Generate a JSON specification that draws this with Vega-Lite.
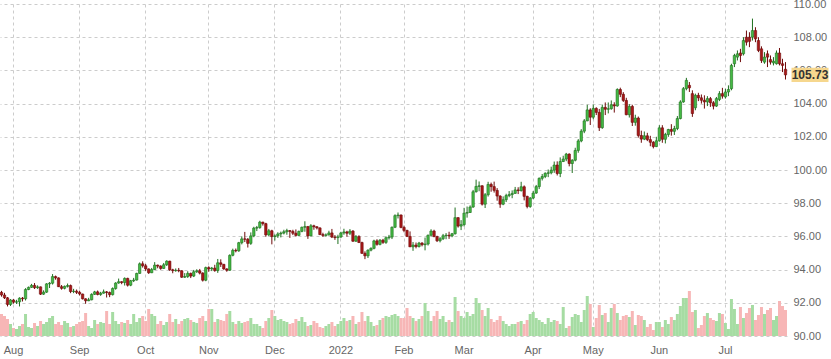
{
"$schema": "https://vega.github.io/schema/vega-lite/v6.json",
"width": 787, "height": 332,
"autosize": {"type": "none"},
"padding": {"left": 0, "top": 4, "right": 44, "bottom": 23},
"background": "white",
"config": {"view": {"stroke": null}, "font": "Liberation Sans"},
"data": {"values": [
{"d":"2021-07-27","o":92.63,"h":92.72,"l":92.37,"c":92.47,"v":22},
{"d":"2021-07-28","o":92.47,"h":92.60,"l":92.23,"c":92.30,"v":20},
{"d":"2021-07-29","o":92.30,"h":92.35,"l":91.78,"c":91.90,"v":17},
{"d":"2021-07-30","o":91.90,"h":92.22,"l":91.81,"c":92.17,"v":12},
{"d":"2021-08-02","o":92.17,"h":92.22,"l":91.95,"c":92.04,"v":8},
{"d":"2021-08-03","o":92.04,"h":92.18,"l":91.93,"c":92.06,"v":7},
{"d":"2021-08-04","o":92.06,"h":92.33,"l":91.78,"c":92.28,"v":10},
{"d":"2021-08-05","o":92.28,"h":92.35,"l":92.08,"c":92.24,"v":12},
{"d":"2021-08-06","o":92.24,"h":92.88,"l":92.14,"c":92.80,"v":22},
{"d":"2021-08-09","o":92.80,"h":92.98,"l":92.76,"c":92.93,"v":9},
{"d":"2021-08-10","o":92.93,"h":93.14,"l":92.90,"c":93.05,"v":8},
{"d":"2021-08-11","o":93.05,"h":93.19,"l":92.83,"c":92.91,"v":13},
{"d":"2021-08-12","o":92.91,"h":93.05,"l":92.84,"c":92.96,"v":10},
{"d":"2021-08-13","o":92.96,"h":92.98,"l":92.47,"c":92.52,"v":15},
{"d":"2021-08-16","o":92.52,"h":92.75,"l":92.48,"c":92.64,"v":12},
{"d":"2021-08-17","o":92.64,"h":93.18,"l":92.60,"c":93.14,"v":14},
{"d":"2021-08-18","o":93.14,"h":93.25,"l":92.89,"c":93.18,"v":18},
{"d":"2021-08-19","o":93.18,"h":93.73,"l":93.10,"c":93.58,"v":20},
{"d":"2021-08-20","o":93.58,"h":93.64,"l":93.39,"c":93.50,"v":12},
{"d":"2021-08-23","o":93.50,"h":93.53,"l":92.95,"c":92.97,"v":14},
{"d":"2021-08-24","o":92.97,"h":93.07,"l":92.79,"c":92.87,"v":11},
{"d":"2021-08-25","o":92.87,"h":93.04,"l":92.81,"c":92.99,"v":15},
{"d":"2021-08-26","o":92.99,"h":93.16,"l":92.92,"c":93.04,"v":13},
{"d":"2021-08-27","o":93.04,"h":93.10,"l":92.58,"c":92.68,"v":9},
{"d":"2021-08-30","o":92.68,"h":92.84,"l":92.58,"c":92.70,"v":10},
{"d":"2021-08-31","o":92.70,"h":92.80,"l":92.53,"c":92.63,"v":12},
{"d":"2021-09-01","o":92.63,"h":92.73,"l":92.44,"c":92.53,"v":14},
{"d":"2021-09-02","o":92.53,"h":92.55,"l":92.20,"c":92.24,"v":15},
{"d":"2021-09-03","o":92.24,"h":92.27,"l":91.94,"c":92.12,"v":23},
{"d":"2021-09-06","o":92.12,"h":92.30,"l":92.10,"c":92.18,"v":10},
{"d":"2021-09-07","o":92.18,"h":92.57,"l":92.15,"c":92.51,"v":8},
{"d":"2021-09-08","o":92.51,"h":92.72,"l":92.47,"c":92.66,"v":16},
{"d":"2021-09-09","o":92.66,"h":92.74,"l":92.45,"c":92.50,"v":12},
{"d":"2021-09-10","o":92.50,"h":92.66,"l":92.42,"c":92.58,"v":14},
{"d":"2021-09-13","o":92.58,"h":92.80,"l":92.55,"c":92.66,"v":13},
{"d":"2021-09-14","o":92.66,"h":92.71,"l":92.32,"c":92.62,"v":25},
{"d":"2021-09-15","o":92.62,"h":92.68,"l":92.34,"c":92.49,"v":12},
{"d":"2021-09-16","o":92.49,"h":92.93,"l":92.44,"c":92.86,"v":24},
{"d":"2021-09-17","o":92.86,"h":93.24,"l":92.79,"c":93.19,"v":15},
{"d":"2021-09-20","o":93.19,"h":93.46,"l":93.15,"c":93.27,"v":12},
{"d":"2021-09-21","o":93.27,"h":93.30,"l":93.12,"c":93.22,"v":14},
{"d":"2021-09-22","o":93.22,"h":93.53,"l":93.04,"c":93.47,"v":13},
{"d":"2021-09-23","o":93.47,"h":93.51,"l":92.98,"c":93.06,"v":16},
{"d":"2021-09-24","o":93.06,"h":93.38,"l":93.00,"c":93.33,"v":12},
{"d":"2021-09-27","o":93.33,"h":93.50,"l":93.25,"c":93.37,"v":22},
{"d":"2021-09-28","o":93.37,"h":93.81,"l":93.34,"c":93.77,"v":14},
{"d":"2021-09-29","o":93.77,"h":94.43,"l":93.75,"c":94.35,"v":18},
{"d":"2021-09-30","o":94.35,"h":94.50,"l":94.12,"c":94.23,"v":20},
{"d":"2021-10-01","o":94.23,"h":94.34,"l":93.92,"c":94.04,"v":15},
{"d":"2021-10-04","o":94.04,"h":94.07,"l":93.74,"c":93.81,"v":27},
{"d":"2021-10-05","o":93.81,"h":94.10,"l":93.79,"c":94.00,"v":22},
{"d":"2021-10-06","o":94.00,"h":94.45,"l":93.98,"c":94.27,"v":20},
{"d":"2021-10-07","o":94.27,"h":94.30,"l":94.08,"c":94.21,"v":12},
{"d":"2021-10-08","o":94.21,"h":94.26,"l":93.99,"c":94.07,"v":15},
{"d":"2021-10-11","o":94.07,"h":94.40,"l":94.05,"c":94.29,"v":11},
{"d":"2021-10-12","o":94.29,"h":94.56,"l":94.22,"c":94.51,"v":14},
{"d":"2021-10-13","o":94.51,"h":94.53,"l":93.92,"c":93.99,"v":22},
{"d":"2021-10-14","o":93.99,"h":94.05,"l":93.78,"c":93.94,"v":14},
{"d":"2021-10-15","o":93.94,"h":94.07,"l":93.87,"c":93.96,"v":17},
{"d":"2021-10-18","o":93.96,"h":94.10,"l":93.84,"c":93.93,"v":12},
{"d":"2021-10-19","o":93.93,"h":93.96,"l":93.50,"c":93.54,"v":15},
{"d":"2021-10-20","o":93.54,"h":93.79,"l":93.50,"c":93.58,"v":17},
{"d":"2021-10-21","o":93.58,"h":93.90,"l":93.50,"c":93.77,"v":18},
{"d":"2021-10-22","o":93.77,"h":93.82,"l":93.49,"c":93.61,"v":16},
{"d":"2021-10-25","o":93.61,"h":93.98,"l":93.55,"c":93.87,"v":14},
{"d":"2021-10-26","o":93.87,"h":94.02,"l":93.80,"c":93.93,"v":13},
{"d":"2021-10-27","o":93.93,"h":94.04,"l":93.71,"c":93.79,"v":18},
{"d":"2021-10-28","o":93.79,"h":93.84,"l":93.28,"c":93.36,"v":20},
{"d":"2021-10-29","o":93.36,"h":94.18,"l":93.30,"c":94.12,"v":15},
{"d":"2021-11-01","o":94.12,"h":94.20,"l":93.87,"c":94.04,"v":27},
{"d":"2021-11-02","o":94.04,"h":94.16,"l":93.91,"c":94.09,"v":27},
{"d":"2021-11-03","o":94.09,"h":94.29,"l":93.87,"c":93.94,"v":14},
{"d":"2021-11-04","o":93.94,"h":94.64,"l":93.80,"c":94.41,"v":17},
{"d":"2021-11-05","o":94.41,"h":94.62,"l":94.16,"c":94.32,"v":16},
{"d":"2021-11-08","o":94.32,"h":94.34,"l":93.99,"c":94.04,"v":15},
{"d":"2021-11-09","o":94.04,"h":94.08,"l":93.87,"c":93.96,"v":22},
{"d":"2021-11-10","o":93.96,"h":94.92,"l":93.93,"c":94.86,"v":25},
{"d":"2021-11-11","o":94.86,"h":95.26,"l":94.80,"c":95.16,"v":14},
{"d":"2021-11-12","o":95.16,"h":95.27,"l":95.04,"c":95.13,"v":12},
{"d":"2021-11-15","o":95.13,"h":95.67,"l":95.07,"c":95.62,"v":15},
{"d":"2021-11-16","o":95.62,"h":96.00,"l":95.52,"c":95.85,"v":13},
{"d":"2021-11-17","o":95.85,"h":96.27,"l":95.66,"c":95.83,"v":14},
{"d":"2021-11-18","o":95.83,"h":95.90,"l":95.33,"c":95.58,"v":15},
{"d":"2021-11-19","o":95.58,"h":96.24,"l":95.49,"c":96.03,"v":18},
{"d":"2021-11-22","o":96.03,"h":96.58,"l":95.95,"c":96.50,"v":12},
{"d":"2021-11-23","o":96.50,"h":96.63,"l":96.32,"c":96.53,"v":12},
{"d":"2021-11-24","o":96.53,"h":96.94,"l":96.46,"c":96.86,"v":10},
{"d":"2021-11-25","o":96.86,"h":96.88,"l":96.65,"c":96.77,"v":8},
{"d":"2021-11-26","o":96.77,"h":96.82,"l":95.98,"c":96.09,"v":15},
{"d":"2021-11-29","o":96.09,"h":96.45,"l":96.01,"c":96.34,"v":18},
{"d":"2021-11-30","o":96.34,"h":96.40,"l":95.52,"c":95.99,"v":26},
{"d":"2021-12-01","o":95.99,"h":96.12,"l":95.75,"c":96.03,"v":20},
{"d":"2021-12-02","o":96.03,"h":96.25,"l":95.91,"c":96.15,"v":16},
{"d":"2021-12-03","o":96.15,"h":96.29,"l":95.94,"c":96.20,"v":17},
{"d":"2021-12-06","o":96.20,"h":96.40,"l":96.12,"c":96.28,"v":15},
{"d":"2021-12-07","o":96.28,"h":96.46,"l":96.10,"c":96.35,"v":14},
{"d":"2021-12-08","o":96.35,"h":96.38,"l":95.91,"c":96.30,"v":12},
{"d":"2021-12-09","o":96.30,"h":96.40,"l":96.08,"c":96.19,"v":13},
{"d":"2021-12-10","o":96.19,"h":96.42,"l":95.99,"c":96.06,"v":17},
{"d":"2021-12-13","o":96.06,"h":96.35,"l":96.02,"c":96.30,"v":15},
{"d":"2021-12-14","o":96.30,"h":96.59,"l":96.25,"c":96.55,"v":19},
{"d":"2021-12-15","o":96.55,"h":96.91,"l":96.28,"c":96.59,"v":14},
{"d":"2021-12-16","o":96.59,"h":96.63,"l":95.85,"c":96.03,"v":10},
{"d":"2021-12-17","o":96.03,"h":96.74,"l":96.01,"c":96.64,"v":11},
{"d":"2021-12-20","o":96.64,"h":96.70,"l":96.40,"c":96.58,"v":15},
{"d":"2021-12-21","o":96.58,"h":96.62,"l":96.42,"c":96.51,"v":13},
{"d":"2021-12-22","o":96.51,"h":96.55,"l":96.08,"c":96.11,"v":9},
{"d":"2021-12-23","o":96.11,"h":96.22,"l":95.97,"c":96.06,"v":8},
{"d":"2021-12-27","o":96.06,"h":96.18,"l":95.98,"c":96.09,"v":10},
{"d":"2021-12-28","o":96.09,"h":96.34,"l":96.05,"c":96.21,"v":12},
{"d":"2021-12-29","o":96.21,"h":96.45,"l":95.90,"c":95.96,"v":14},
{"d":"2021-12-30","o":95.96,"h":96.08,"l":95.79,"c":95.93,"v":10},
{"d":"2021-12-31","o":95.93,"h":96.10,"l":95.54,"c":95.97,"v":12},
{"d":"2022-01-03","o":95.97,"h":96.28,"l":95.90,"c":96.21,"v":15},
{"d":"2022-01-04","o":96.21,"h":96.46,"l":96.10,"c":96.27,"v":18},
{"d":"2022-01-05","o":96.27,"h":96.34,"l":95.98,"c":96.19,"v":15},
{"d":"2022-01-06","o":96.19,"h":96.44,"l":96.08,"c":96.32,"v":16},
{"d":"2022-01-07","o":96.32,"h":96.38,"l":95.67,"c":95.71,"v":20},
{"d":"2022-01-10","o":95.71,"h":96.08,"l":95.67,"c":95.99,"v":12},
{"d":"2022-01-11","o":95.99,"h":96.07,"l":95.60,"c":95.63,"v":14},
{"d":"2022-01-12","o":95.63,"h":95.68,"l":94.95,"c":94.98,"v":24},
{"d":"2022-01-13","o":94.98,"h":95.10,"l":94.63,"c":94.83,"v":15},
{"d":"2022-01-14","o":94.83,"h":95.22,"l":94.70,"c":95.17,"v":20},
{"d":"2022-01-17","o":95.17,"h":95.34,"l":95.10,"c":95.28,"v":14},
{"d":"2022-01-18","o":95.28,"h":95.80,"l":95.22,"c":95.73,"v":10},
{"d":"2022-01-19","o":95.73,"h":95.83,"l":95.44,"c":95.52,"v":11},
{"d":"2022-01-20","o":95.52,"h":95.84,"l":95.46,"c":95.77,"v":16},
{"d":"2022-01-21","o":95.77,"h":95.85,"l":95.55,"c":95.64,"v":18},
{"d":"2022-01-24","o":95.64,"h":96.00,"l":95.55,"c":95.92,"v":20},
{"d":"2022-01-25","o":95.92,"h":96.09,"l":95.81,"c":95.96,"v":19},
{"d":"2022-01-26","o":95.96,"h":96.60,"l":95.84,"c":96.55,"v":21},
{"d":"2022-01-27","o":96.55,"h":97.33,"l":96.50,"c":97.25,"v":22},
{"d":"2022-01-28","o":97.25,"h":97.44,"l":97.08,"c":97.29,"v":20},
{"d":"2022-01-31","o":97.29,"h":97.32,"l":96.49,"c":96.54,"v":18},
{"d":"2022-02-01","o":96.54,"h":96.65,"l":96.25,"c":96.36,"v":18},
{"d":"2022-02-02","o":96.36,"h":96.40,"l":95.96,"c":96.00,"v":28},
{"d":"2022-02-03","o":96.00,"h":96.30,"l":95.36,"c":95.37,"v":20},
{"d":"2022-02-04","o":95.37,"h":95.66,"l":95.13,"c":95.48,"v":18},
{"d":"2022-02-07","o":95.48,"h":95.63,"l":95.28,"c":95.39,"v":15},
{"d":"2022-02-08","o":95.39,"h":95.67,"l":95.33,"c":95.60,"v":17},
{"d":"2022-02-09","o":95.60,"h":95.65,"l":95.40,"c":95.50,"v":20},
{"d":"2022-02-10","o":95.50,"h":95.93,"l":95.16,"c":95.54,"v":33},
{"d":"2022-02-11","o":95.54,"h":96.11,"l":95.45,"c":96.07,"v":25},
{"d":"2022-02-14","o":96.07,"h":96.43,"l":96.00,"c":96.32,"v":15},
{"d":"2022-02-15","o":96.32,"h":96.40,"l":95.95,"c":95.99,"v":20},
{"d":"2022-02-16","o":95.99,"h":96.04,"l":95.66,"c":95.74,"v":25},
{"d":"2022-02-17","o":95.74,"h":95.96,"l":95.64,"c":95.86,"v":17},
{"d":"2022-02-18","o":95.86,"h":96.15,"l":95.78,"c":96.04,"v":20},
{"d":"2022-02-21","o":96.04,"h":96.20,"l":95.83,"c":96.07,"v":14},
{"d":"2022-02-22","o":96.07,"h":96.28,"l":95.85,"c":96.03,"v":16},
{"d":"2022-02-23","o":96.03,"h":96.21,"l":95.95,"c":96.16,"v":14},
{"d":"2022-02-24","o":96.16,"h":97.74,"l":96.11,"c":97.13,"v":39},
{"d":"2022-02-25","o":97.13,"h":97.16,"l":96.53,"c":96.62,"v":25},
{"d":"2022-02-28","o":96.62,"h":96.98,"l":96.38,"c":96.71,"v":20},
{"d":"2022-03-01","o":96.71,"h":97.72,"l":96.60,"c":97.40,"v":18},
{"d":"2022-03-02","o":97.40,"h":97.80,"l":97.13,"c":97.44,"v":24},
{"d":"2022-03-03","o":97.44,"h":97.87,"l":97.41,"c":97.77,"v":20},
{"d":"2022-03-04","o":97.77,"h":98.80,"l":97.72,"c":98.69,"v":22},
{"d":"2022-03-07","o":98.69,"h":99.42,"l":98.64,"c":99.01,"v":38},
{"d":"2022-03-08","o":99.01,"h":99.31,"l":98.72,"c":99.05,"v":33},
{"d":"2022-03-09","o":99.05,"h":99.08,"l":97.86,"c":97.94,"v":26},
{"d":"2022-03-10","o":97.94,"h":98.61,"l":97.71,"c":98.51,"v":20},
{"d":"2022-03-11","o":98.51,"h":99.29,"l":98.40,"c":99.13,"v":28},
{"d":"2022-03-14","o":99.13,"h":99.24,"l":98.69,"c":99.00,"v":17},
{"d":"2022-03-15","o":99.00,"h":99.30,"l":98.64,"c":98.77,"v":14},
{"d":"2022-03-16","o":98.77,"h":98.91,"l":98.15,"c":98.43,"v":16},
{"d":"2022-03-17","o":98.43,"h":98.48,"l":97.72,"c":97.94,"v":20},
{"d":"2022-03-18","o":97.94,"h":98.41,"l":97.88,"c":98.21,"v":15},
{"d":"2022-03-21","o":98.21,"h":98.57,"l":98.07,"c":98.46,"v":12},
{"d":"2022-03-22","o":98.46,"h":98.73,"l":98.36,"c":98.52,"v":10},
{"d":"2022-03-23","o":98.52,"h":98.77,"l":98.30,"c":98.59,"v":12},
{"d":"2022-03-24","o":98.59,"h":98.98,"l":98.56,"c":98.80,"v":12},
{"d":"2022-03-25","o":98.80,"h":98.96,"l":98.55,"c":98.76,"v":14},
{"d":"2022-03-28","o":98.76,"h":99.29,"l":98.70,"c":98.99,"v":15},
{"d":"2022-03-29","o":98.99,"h":99.07,"l":98.17,"c":98.41,"v":12},
{"d":"2022-03-30","o":98.41,"h":98.45,"l":97.69,"c":97.80,"v":16},
{"d":"2022-03-31","o":97.80,"h":98.37,"l":97.72,"c":98.31,"v":22},
{"d":"2022-04-01","o":98.31,"h":98.74,"l":98.24,"c":98.61,"v":24},
{"d":"2022-04-04","o":98.61,"h":99.10,"l":98.56,"c":99.00,"v":18},
{"d":"2022-04-05","o":99.00,"h":99.55,"l":98.85,"c":99.50,"v":16},
{"d":"2022-04-06","o":99.50,"h":99.76,"l":99.37,"c":99.61,"v":14},
{"d":"2022-04-07","o":99.61,"h":99.86,"l":99.51,"c":99.80,"v":12},
{"d":"2022-04-08","o":99.80,"h":100.03,"l":99.57,"c":99.83,"v":18},
{"d":"2022-04-11","o":99.83,"h":100.20,"l":99.74,"c":99.99,"v":14},
{"d":"2022-04-12","o":99.99,"h":100.51,"l":99.83,"c":100.30,"v":16},
{"d":"2022-04-13","o":100.30,"h":100.52,"l":99.67,"c":99.79,"v":15},
{"d":"2022-04-14","o":99.79,"h":100.76,"l":99.57,"c":100.51,"v":12},
{"d":"2022-04-18","o":100.51,"h":100.86,"l":100.48,"c":100.66,"v":29},
{"d":"2022-04-19","o":100.66,"h":101.03,"l":100.53,"c":100.96,"v":8},
{"d":"2022-04-20","o":100.96,"h":101.00,"l":100.22,"c":100.39,"v":10},
{"d":"2022-04-21","o":100.39,"h":100.65,"l":99.82,"c":100.59,"v":19},
{"d":"2022-04-22","o":100.59,"h":101.34,"l":100.52,"c":101.18,"v":22},
{"d":"2022-04-25","o":101.18,"h":101.86,"l":101.04,"c":101.75,"v":21},
{"d":"2022-04-26","o":101.75,"h":102.46,"l":101.67,"c":102.34,"v":14},
{"d":"2022-04-27","o":102.34,"h":103.07,"l":102.22,"c":102.96,"v":26},
{"d":"2022-04-28","o":102.96,"h":103.93,"l":102.94,"c":103.62,"v":40},
{"d":"2022-04-29","o":103.62,"h":103.72,"l":102.71,"c":103.18,"v":32},
{"d":"2022-05-02","o":103.18,"h":103.94,"l":103.06,"c":103.71,"v":9},
{"d":"2022-05-03","o":103.71,"h":103.78,"l":103.31,"c":103.47,"v":18},
{"d":"2022-05-04","o":103.47,"h":103.68,"l":102.35,"c":102.55,"v":31},
{"d":"2022-05-05","o":102.55,"h":103.94,"l":102.48,"c":103.77,"v":21},
{"d":"2022-05-06","o":103.77,"h":104.07,"l":103.31,"c":103.66,"v":23},
{"d":"2022-05-09","o":103.66,"h":104.07,"l":103.41,"c":103.69,"v":14},
{"d":"2022-05-10","o":103.69,"h":104.19,"l":103.63,"c":103.93,"v":28},
{"d":"2022-05-11","o":103.93,"h":104.08,"l":103.46,"c":103.86,"v":32},
{"d":"2022-05-12","o":103.86,"h":104.92,"l":103.81,"c":104.85,"v":23},
{"d":"2022-05-13","o":104.85,"h":104.96,"l":104.39,"c":104.56,"v":16},
{"d":"2022-05-16","o":104.56,"h":104.69,"l":104.10,"c":104.19,"v":20},
{"d":"2022-05-17","o":104.19,"h":104.35,"l":103.30,"c":103.33,"v":21},
{"d":"2022-05-18","o":103.33,"h":103.97,"l":103.16,"c":103.83,"v":19},
{"d":"2022-05-19","o":103.83,"h":103.93,"l":102.65,"c":102.87,"v":25},
{"d":"2022-05-20","o":102.87,"h":103.33,"l":102.67,"c":103.13,"v":11},
{"d":"2022-05-23","o":103.13,"h":103.22,"l":101.95,"c":102.08,"v":21},
{"d":"2022-05-24","o":102.08,"h":102.37,"l":101.64,"c":101.86,"v":20},
{"d":"2022-05-25","o":101.86,"h":102.32,"l":101.80,"c":102.06,"v":16},
{"d":"2022-05-26","o":102.06,"h":102.24,"l":101.74,"c":101.83,"v":9},
{"d":"2022-05-27","o":101.83,"h":102.06,"l":101.43,"c":101.67,"v":12},
{"d":"2022-05-30","o":101.67,"h":101.74,"l":101.30,"c":101.41,"v":6},
{"d":"2022-05-31","o":101.41,"h":102.00,"l":101.38,"c":101.76,"v":14},
{"d":"2022-06-01","o":101.76,"h":102.70,"l":101.70,"c":102.54,"v":14},
{"d":"2022-06-02","o":102.54,"h":102.70,"l":101.64,"c":101.85,"v":9},
{"d":"2022-06-03","o":101.85,"h":102.24,"l":101.60,"c":102.14,"v":16},
{"d":"2022-06-06","o":102.14,"h":102.48,"l":102.00,"c":102.44,"v":12},
{"d":"2022-06-07","o":102.44,"h":102.76,"l":102.07,"c":102.33,"v":19},
{"d":"2022-06-08","o":102.33,"h":102.66,"l":102.11,"c":102.50,"v":16},
{"d":"2022-06-09","o":102.50,"h":103.25,"l":102.40,"c":103.10,"v":22},
{"d":"2022-06-10","o":103.10,"h":104.20,"l":103.05,"c":104.10,"v":30},
{"d":"2022-06-13","o":104.10,"h":105.00,"l":104.05,"c":104.90,"v":38},
{"d":"2022-06-14","o":104.90,"h":105.55,"l":104.80,"c":105.40,"v":38},
{"d":"2022-06-15","o":105.10,"h":105.30,"l":104.70,"c":104.95,"v":45},
{"d":"2022-06-16","o":104.60,"h":104.80,"l":103.20,"c":103.40,"v":24},
{"d":"2022-06-17","o":103.75,"h":104.60,"l":103.60,"c":104.50,"v":26},
{"d":"2022-06-20","o":104.50,"h":104.65,"l":104.15,"c":104.35,"v":8},
{"d":"2022-06-21","o":104.35,"h":104.55,"l":104.00,"c":104.20,"v":11},
{"d":"2022-06-22","o":104.20,"h":104.50,"l":103.70,"c":104.10,"v":20},
{"d":"2022-06-23","o":104.10,"h":104.45,"l":103.85,"c":104.30,"v":23},
{"d":"2022-06-24","o":104.30,"h":104.40,"l":103.80,"c":104.05,"v":18},
{"d":"2022-06-27","o":104.05,"h":104.15,"l":103.65,"c":103.85,"v":16},
{"d":"2022-06-28","o":103.85,"h":104.40,"l":103.80,"c":104.30,"v":15},
{"d":"2022-06-29","o":104.25,"h":104.75,"l":104.15,"c":104.60,"v":23},
{"d":"2022-06-30","o":104.60,"h":104.95,"l":104.30,"c":104.45,"v":22},
{"d":"2022-07-01","o":104.40,"h":104.90,"l":104.30,"c":104.70,"v":13},
{"d":"2022-07-04","o":104.70,"h":105.10,"l":104.45,"c":104.85,"v":7},
{"d":"2022-07-05","o":104.90,"h":106.40,"l":104.80,"c":106.30,"v":37},
{"d":"2022-07-06","o":106.40,"h":107.00,"l":106.20,"c":106.90,"v":27},
{"d":"2022-07-07","o":106.80,"h":107.20,"l":106.60,"c":107.00,"v":12},
{"d":"2022-07-08","o":107.05,"h":107.30,"l":106.50,"c":106.90,"v":29},
{"d":"2022-07-11","o":107.00,"h":108.00,"l":106.90,"c":107.80,"v":18},
{"d":"2022-07-12","o":108.00,"h":108.40,"l":107.50,"c":107.70,"v":23},
{"d":"2022-07-13","o":108.00,"h":108.30,"l":107.40,"c":107.75,"v":28},
{"d":"2022-07-14","o":108.00,"h":109.12,"l":107.80,"c":108.40,"v":31},
{"d":"2022-07-15","o":108.40,"h":108.60,"l":107.70,"c":107.90,"v":16},
{"d":"2022-07-18","o":107.80,"h":108.00,"l":107.10,"c":107.20,"v":21},
{"d":"2022-07-19","o":107.30,"h":107.45,"l":106.45,"c":106.60,"v":29},
{"d":"2022-07-20","o":106.50,"h":107.10,"l":106.40,"c":106.80,"v":22},
{"d":"2022-07-21","o":107.00,"h":107.20,"l":106.20,"c":106.80,"v":26},
{"d":"2022-07-22","o":106.65,"h":106.90,"l":106.35,"c":106.50,"v":28},
{"d":"2022-07-25","o":106.45,"h":106.80,"l":106.30,"c":106.55,"v":16},
{"d":"2022-07-26","o":106.40,"h":107.20,"l":106.35,"c":107.05,"v":20},
{"d":"2022-07-27","o":107.05,"h":107.35,"l":106.30,"c":106.40,"v":35},
{"d":"2022-07-28","o":106.40,"h":106.70,"l":105.90,"c":106.30,"v":30},
{"d":"2022-07-29","o":106.07,"h":106.50,"l":105.45,"c":105.73,"v":26}
]},
"encoding": {
  "x": {"field": "d", "type": "ordinal", "title": null,
    "scale": {"paddingInner": 0, "paddingOuter": 0},
    "axis": {
      "values": ["2021-08-02","2021-09-01","2021-10-01","2021-11-01","2021-12-01","2022-01-03","2022-02-01","2022-03-01","2022-04-01","2022-05-02","2022-06-01","2022-07-01"],
      "labelExpr": "slice(datum.value,5,7)=='01' ? slice(datum.value,0,4) : utcFormat(toDate(datum.value),'%b')",
      "labelAngle": 0, "ticks": false, "domain": false, "grid": true,
      "gridDash": [3,3], "gridColor": "#cccccc", "gridWidth": 1,
      "labelColor": "#666666", "labelFontSize": 11, "labelPadding": 8,
      "bandPosition": 0.5, "labelFont": "Liberation Sans", "labelOverlap": false,
      "tickCount": 20
    }
  }
},
"layer": [
  {
    "mark": {"type": "bar", "width": {"band": 1}},
    "encoding": {
      "y": {"field": "v", "type": "quantitative", "scale": {"domain": [0, 332]}, "axis": null},
      "color": {"condition": {"test": "datum.c >= datum.o", "value": "#a6dca3"}, "value": "#f7b6b6"}
    }
  },
  {
    "layer": [
      {
        "mark": {"type": "rule", "strokeWidth": 1},
        "encoding": {
          "y": {"field": "l", "type": "quantitative", "scale": {"domain": [90, 110], "zero": false},
            "axis": {"orient": "right", "values": [90,92,94,96,98,100,102,104,106,108,110], "format": ".2f",
              "tickCount": 12,
              "title": null, "ticks": false, "domain": false, "grid": true,
              "gridDash": [3,3], "gridColor": "#cccccc", "labelColor": "#666666",
              "labelFontSize": 11, "labelPadding": 6, "labelFont": "Liberation Sans",
              "labelOverlap": false, "labelBound": false, "labelFlush": false}},
          "y2": {"field": "h"},
          "color": {"condition": {"test": "datum.c >= datum.o", "value": "#1f6f1f"}, "value": "#6e0a0a"}
        }
      },
      {
        "mark": {"type": "bar", "width": 2.4, "strokeWidth": 0.6},
        "encoding": {
          "y": {"field": "o", "type": "quantitative"},
          "y2": {"field": "c"},
          "fill": {"condition": {"test": "datum.c >= datum.o", "value": "#44b944"}, "value": "#a81818"},
          "stroke": {"condition": {"test": "datum.c >= datum.o", "value": "#1f6f1f"}, "value": "#6e0a0a"}
        }
      },
      {
        "transform": [{"filter": "datum.d == '2022-07-29'"}],
        "mark": {"type": "point", "shape": "M-1,-0.38H1V0.38H-1Z", "size": 1369, "filled": true, "fill": "#f6d78e", "opacity": 1, "strokeWidth": 0, "xOffset": 23},
        "encoding": {
          "x": {"value": "width"},
          "y": {"field": "c", "type": "quantitative"}
        }
      },
      {
        "transform": [{"filter": "datum.d == '2022-07-29'"}],
        "mark": {"type": "text", "fontWeight": "bold", "fontSize": 12, "color": "#333333", "align": "center", "baseline": "middle", "xOffset": 23, "font": "Liberation Sans"},
        "encoding": {
          "x": {"value": "width"},
          "y": {"field": "c", "type": "quantitative"},
          "text": {"field": "c", "type": "quantitative", "format": ".2f"}
        }
      }
    ]
  }
],
"resolve": {"scale": {"y": "independent"}}
}
